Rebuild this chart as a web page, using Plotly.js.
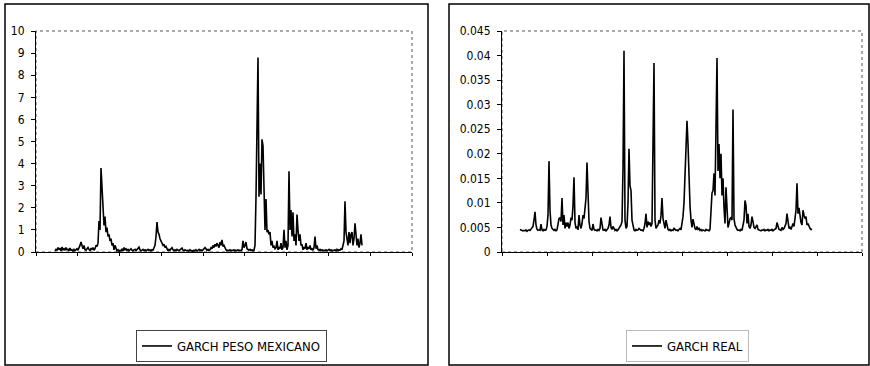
<!DOCTYPE html>
<html>
<head>
<meta charset="utf-8">
<script src="https://cdn.plot.ly/plotly-3.0.1.min.js"></script>
<style>html,body{margin:0;padding:0;background:#fff;}#chart{width:870px;height:366px;}</style>
</head>
<body>
<div id="chart"></div>
<script>
// GARCH variance, Mexican peso (daily observations, left panel)
const garchPeso = [
0.05,0.12,0.08,0.2,0.1,0.18,0.06,0.22,0.1,0.15,
0.08,0.2,0.1,0.12,0.05,0.18,0.08,0.1,0.04,0.12,
0.06,0.1,0.15,0.08,0.25,0.3,0.45,0.25,0.15,0.3,
0.1,0.08,0.15,0.2,0.12,0.05,0.18,0.1,0.2,0.08,
0.15,0.3,0.25,0.4,1.4,1.0,3.8,2.8,2.3,1.2,
1.6,0.9,1.1,0.7,0.8,0.5,0.6,0.3,0.4,0.1,
0.3,0.15,0.05,0.1,0.02,0.08,0.05,0.12,0.05,0.2,
0.1,0.15,0.08,0.12,0.05,0.1,0.15,0.08,0.05,0.1,
0.12,0.06,0.1,0.18,0.22,0.1,0.05,0.08,0.12,0.06,
0.1,0.05,0.08,0.12,0.06,0.1,0.05,0.1,0.08,0.2,
0.3,0.7,1.35,0.9,0.8,0.6,0.5,0.4,0.3,0.35,
0.2,0.25,0.1,0.05,0.12,0.08,0.15,0.2,0.1,0.05,
0.1,0.06,0.12,0.08,0.05,0.1,0.15,0.18,0.08,0.05,
0.1,0.06,0.05,0.08,0.04,0.1,0.05,0.06,0.03,0.08,
0.05,0.1,0.04,0.08,0.12,0.06,0.1,0.05,0.08,0.15,
0.2,0.1,0.08,0.12,0.06,0.1,0.2,0.15,0.3,0.2,
0.35,0.25,0.4,0.3,0.2,0.45,0.3,0.55,0.25,0.3,
0.15,0.1,0.05,0.08,0.06,0.1,0.05,0.08,0.06,0.1,
0.05,0.08,0.06,0.1,0.05,0.08,0.06,0.1,0.5,0.2,
0.3,0.45,0.15,0.1,0.08,0.12,0.06,0.1,0.05,0.08,
0.3,2.5,4.8,8.8,2.5,4.0,2.6,5.1,4.8,3.0,
1.0,2.4,0.9,1.0,0.8,0.9,0.3,0.5,0.2,0.25,
0.15,0.2,0.5,0.1,0.2,0.15,0.4,0.1,0.2,1.0,
0.2,0.5,0.1,0.3,3.65,1.0,1.9,0.7,1.8,0.5,
0.8,0.3,1.7,1.0,0.5,0.8,0.3,0.35,0.1,0.2,
0.15,0.4,0.1,0.2,0.15,0.3,0.1,0.15,0.08,0.2,
0.7,0.15,0.3,0.1,0.08,0.12,0.06,0.1,0.05,0.08,
0.06,0.1,0.05,0.08,0.12,0.06,0.1,0.05,0.08,0.06,
0.1,0.05,0.12,0.06,0.1,0.08,0.15,0.1,0.3,0.5,
2.3,0.9,0.6,0.3,0.9,0.4,0.8,0.9,0.3,0.6,
1.3,0.5,0.3,0.6,0.2,0.4,0.8,0.3
];

// GARCH variance, Brazilian real (right panel)
const garchReal = [
0.0046,0.0045,0.0044,0.0043,0.0044,0.0043,0.0045,0.0042,0.0044,0.0045,
0.0044,0.0046,0.0048,0.0052,0.0065,0.0082,0.0055,0.0046,0.0044,0.0045,
0.0044,0.0057,0.0045,0.0043,0.0046,0.0044,0.0045,0.0052,0.0075,0.0185,
0.0085,0.0055,0.0048,0.0045,0.0044,0.0046,0.0043,0.0045,0.0058,0.0068,
0.007,0.0062,0.011,0.0055,0.0075,0.0048,0.006,0.0052,0.006,0.0048,
0.0055,0.007,0.0065,0.0095,0.0152,0.006,0.0048,0.0052,0.0045,0.0075,
0.0055,0.0048,0.0058,0.0075,0.0068,0.0095,0.011,0.0182,0.0105,0.0062,
0.0048,0.0045,0.0044,0.0057,0.0046,0.0044,0.0045,0.0043,0.0046,0.0044,
0.0048,0.007,0.0052,0.0045,0.0044,0.0046,0.0043,0.0045,0.0048,0.0055,
0.0072,0.005,0.0046,0.0052,0.0048,0.0044,0.0046,0.0043,0.0045,0.0048,
0.0052,0.0055,0.0062,0.017,0.041,0.0065,0.0048,0.0052,0.01,0.021,
0.0135,0.0125,0.0065,0.005,0.0045,0.0043,0.0046,0.0044,0.0045,0.0048,
0.0046,0.0044,0.0045,0.0043,0.0048,0.0058,0.0078,0.005,0.0062,0.0055,
0.006,0.0052,0.0058,0.022,0.0385,0.0065,0.0048,0.0052,0.0055,0.0065,
0.0058,0.0075,0.011,0.0068,0.0055,0.0048,0.0065,0.0052,0.0046,0.0044,
0.0046,0.0043,0.0045,0.0044,0.0048,0.0046,0.0044,0.0045,0.0043,0.0046,
0.0048,0.0045,0.0058,0.0072,0.01,0.015,0.023,0.0267,0.022,0.012,
0.0095,0.0065,0.005,0.0067,0.0055,0.0048,0.0045,0.0052,0.0046,0.0048,
0.0044,0.0046,0.0043,0.0045,0.0044,0.0043,0.0046,0.0044,0.0045,0.0043,
0.0046,0.0075,0.012,0.0125,0.016,0.0115,0.028,0.0395,0.0165,0.022,
0.015,0.02,0.0115,0.015,0.009,0.0058,0.0132,0.0075,0.005,0.0058,
0.0068,0.007,0.0065,0.029,0.0068,0.0055,0.0048,0.0046,0.0044,0.0045,
0.0043,0.0046,0.0044,0.0052,0.0065,0.0105,0.0095,0.0058,0.0078,0.0052,
0.0048,0.0055,0.0072,0.0062,0.005,0.0048,0.0052,0.0055,0.0046,0.0045,
0.0044,0.0043,0.0045,0.0044,0.0046,0.0043,0.0045,0.0044,0.0046,0.0043,
0.0045,0.0044,0.0046,0.0043,0.0045,0.0046,0.0048,0.006,0.0052,0.0046,
0.0045,0.0044,0.005,0.0046,0.0048,0.0052,0.0058,0.0078,0.0055,0.0048,
0.005,0.0046,0.0052,0.0058,0.0052,0.007,0.0085,0.014,0.0078,0.009,
0.007,0.006,0.0055,0.0085,0.0075,0.0068,0.0072,0.0055,0.0058,0.005,
0.0048,0.0046,0.0047
];

const seriesNames = ["GARCH PESO MEXICANO", "GARCH REAL"];

const FONT = "'Liberation Sans Narrow', 'DejaVu Sans Condensed', 'Arial Narrow', sans-serif";
const W = 870, H = 366;
const px = v => v / W, py = v => 1 - v / H;

const traces = [
  {x: garchPeso.map((_, i) => i), y: garchPeso, type: 'scatter', mode: 'lines',
   name: seriesNames[0], line: {color: '#000', width: 1.6}, xaxis: 'x', yaxis: 'y', legend: 'legend'},
  {x: garchReal.map((_, i) => i), y: garchReal, type: 'scatter', mode: 'lines',
   name: seriesNames[1], line: {color: '#000', width: 1.6}, xaxis: 'x2', yaxis: 'y2', legend: 'legend2'}
];

const axCommon = {showgrid: false, zeroline: false, showline: true, linecolor: '#000', linewidth: 1,
  ticks: 'outside', ticklen: 4, tickcolor: '#000', tickwidth: 1,
  tickfont: {family: FONT, size: 12, color: '#000'}};

const layout = {
  width: W, height: H, autosize: false,
  margin: {l: 0, r: 0, t: 0, b: 0, pad: 0},
  paper_bgcolor: '#fff', plot_bgcolor: '#fff',
  font: {family: FONT, size: 13, color: '#000'},
  xaxis: Object.assign({}, axCommon, {domain: [px(36), px(412)], range: [-19, 357],
    showticklabels: false, tick0: -19, dtick: 41.78, ticklen: 3, anchor: 'y'}),
  yaxis: Object.assign({}, axCommon, {domain: [py(252), py(31)], range: [0, 10], dtick: 1,
    ticklabelstandoff: 4, anchor: 'x'}),
  xaxis2: Object.assign({}, axCommon, {domain: [px(502), px(862)], range: [-18, 342],
    showticklabels: false, tick0: -18, dtick: 45, ticklen: 3, anchor: 'y2'}),
  yaxis2: Object.assign({}, axCommon, {domain: [py(252), py(31)], range: [0, 0.045], dtick: 0.005,
    ticklabelstandoff: 4, anchor: 'x2'}),
  showlegend: true,
  legend: {x: px(136), y: py(346), xanchor: 'left', yanchor: 'middle', orientation: 'v',
    bgcolor: '#fff', bordercolor: '#444', borderwidth: 1,
    font: {family: FONT, size: 13, color: '#000'}, itemwidth: 30},
  legend2: {x: px(626), y: py(346), xanchor: 'left', yanchor: 'middle', orientation: 'v',
    bgcolor: '#fff', bordercolor: '#bbb', borderwidth: 1,
    font: {family: FONT, size: 13, color: '#000'}, itemwidth: 30},
  shapes: [
    {type: 'rect', xref: 'paper', yref: 'paper', x0: px(5), x1: px(428), y0: py(365), y1: py(4),
     line: {color: '#000', width: 1.5}, layer: 'below'},
    {type: 'rect', xref: 'paper', yref: 'paper', x0: px(449), x1: px(869), y0: py(365), y1: py(4),
     line: {color: '#000', width: 1.5}, layer: 'below'},
    {type: 'rect', xref: 'x domain', yref: 'y domain', x0: 0, x1: 1, y0: 0, y1: 1,
     line: {color: '#555', width: 1, dash: 'dot'}, layer: 'below'},
    {type: 'rect', xref: 'x2 domain', yref: 'y2 domain', x0: 0, x1: 1, y0: 0, y1: 1,
     line: {color: '#555', width: 1, dash: 'dot'}, layer: 'below'}
  ]
};

Plotly.newPlot('chart', traces, layout, {staticPlot: true, displayModeBar: false});
</script>
</body>
</html>
